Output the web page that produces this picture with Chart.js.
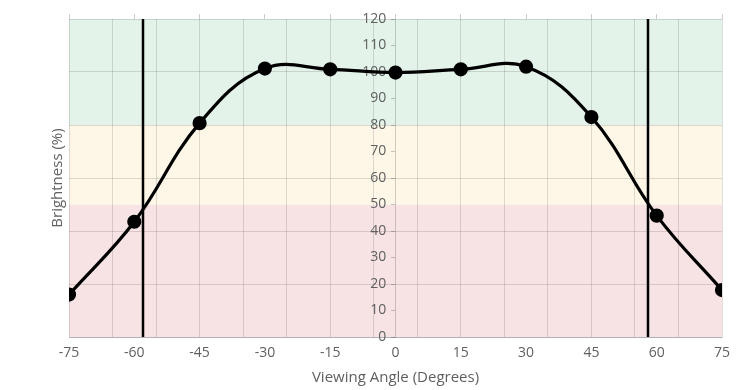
<!DOCTYPE html>
<html>
<head>
<meta charset="utf-8">
<script src="https://cdn.jsdelivr.net/npm/chart.js@4.4.0/dist/chart.umd.min.js"></script>
<style>
  html, body { margin: 0; padding: 0; background: #ffffff; }
  #wrap { width: 749px; height: 390px; position: relative; }
</style>
</head>
<body>
<div id="wrap"><canvas id="c"></canvas></div>
<script>
// ---- data ----
const angles = [-75, -60, -45, -30, -15, 0, 15, 30, 45, 60, 75];
const brightness = [16, 43.5, 80.7, 101.3, 101, 99.8, 101, 102, 83, 45.8, 17.7];
const xLabelTicks = [-75, -60, -45, -30, -15, 0, 15, 30, 45, 60, 75];
const xGridTicks = [-75, -65, -55, -45, -35, -25, -15, -5, 5, 15, 25, 35, 45, 55, 65, 75];
const yLabelTicks = [0, 10, 20, 30, 40, 50, 60, 70, 80, 90, 100, 110, 120];
const yGridTicks = [0, 20, 40, 60, 80, 100, 120];
const bandLimits = [0, 50, 80, 120];
const bandColors = ['#f8e3e4', '#fef7e7', '#e3f3e9'];
const markerAngles = [-58, 58];
const yAxisAt = 0;          // value-axis crosses the category axis at 0°
const yLabelGap = -2.1;     // label column sits slightly left of the axis line

const textColor = '#606060';
const gridColor = 'rgba(0,0,0,0.13)';

const bandsPlugin = {
  id: 'bands',
  beforeDraw(chart) {
    const { ctx, chartArea, scales } = chart;
    const y = scales.y;
    ctx.save();
    for (let i = 0; i < bandColors.length; i++) {
      const top = y.getPixelForValue(bandLimits[i + 1]);
      const bottom = y.getPixelForValue(bandLimits[i]);
      ctx.fillStyle = bandColors[i];
      ctx.fillRect(chartArea.left, top, chartArea.right - chartArea.left, bottom - top);
    }
    ctx.restore();
  }
};

const setTicks = (arr) => (scale) => { scale.ticks = arr.map(v => ({ value: v })); };

const markerSets = markerAngles.map(a => ({
  type: 'line',
  data: [{ x: a, y: 0 }, { x: a, y: 120 }],
  borderColor: '#000000',
  borderWidth: 2.5,
  pointRadius: 0,
  tension: 0,
  xAxisID: 'x',
  yAxisID: 'y'
}));

new Chart(document.getElementById('c'), {
  type: 'line',
  data: {
    datasets: [
      ...markerSets,
      {
        data: angles.map((a, i) => ({ x: a, y: brightness[i] })),
        borderColor: '#000000',
        backgroundColor: '#000000',
        borderWidth: 3.2,
        pointRadius: 5.5,
        pointHoverRadius: 5.5,
        tension: 0.4,
        xAxisID: 'x',
        yAxisID: 'y'
      }
    ]
  },
  plugins: [bandsPlugin],
  options: {
    responsive: true,
    maintainAspectRatio: false,
    animation: false,
    events: [],
    layout: { padding: { left: 49, right: 27, top: 14, bottom: 3 } },
    plugins: { legend: { display: false }, tooltip: { enabled: false } },
    scales: {
      x: {
        type: 'linear', position: 'bottom', min: -75, max: 75,
        afterBuildTicks: setTicks(xGridTicks.concat(xLabelTicks).filter((v, i, s) => s.indexOf(v) === i).sort((a, b) => a - b)),
        grid: {
          color: (c) => xGridTicks.includes(c.tick.value) ? gridColor : 'rgba(0,0,0,0)',
          drawTicks: false
        },
        border: { display: true, color: 'rgba(0,0,0,0.2)' },
        ticks: {
          autoSkip: false, maxRotation: 0, padding: 9,
          color: textColor, font: { family: 'Open Sans', size: 14, lineHeight: 1.0 },
          callback: (v) => xLabelTicks.includes(v) ? String(v) : ''
        },
        title: {
          display: true, text: 'Viewing Angle (Degrees)', color: textColor,
          font: { family: 'Open Sans', size: 15 }, padding: { top: 0, bottom: 0 }
        }
      },
      xt: {
        type: 'linear', position: 'top', min: -75, max: 75,
        afterBuildTicks: setTicks(xLabelTicks),
        grid: { drawOnChartArea: false, tickLength: 5, color: 'rgba(0,0,0,0.2)' },
        border: { display: false },
        ticks: { display: false }
      },
      y: {
        type: 'linear', position: 'left', min: 0, max: 120,
        afterBuildTicks: setTicks(yGridTicks),
        grid: { color: gridColor, drawTicks: false },
        border: { display: false },
        ticks: { display: false },
        title: {
          display: true, text: 'Brightness (%)', color: textColor,
          font: { family: 'Open Sans', size: 15 }, padding: { top: 0, bottom: 2 }
        }
      },
      yt: {
        type: 'linear', position: { x: yAxisAt }, min: 0, max: 120,
        afterBuildTicks: setTicks(yLabelTicks),
        grid: { drawOnChartArea: false, tickLength: 4, color: 'rgba(0,0,0,0.22)' },
        border: { display: true, color: 'rgba(0,0,0,0.18)' },
        ticks: { display: false }
      },
      yl: {
        type: 'linear', position: { x: yAxisAt + yLabelGap }, min: 0, max: 120,
        afterBuildTicks: setTicks(yLabelTicks),
        grid: { display: false },
        border: { display: false },
        ticks: { color: textColor, font: { family: 'Open Sans', size: 14 } }
      }
    }
  }
});
</script>
</body>
</html>
